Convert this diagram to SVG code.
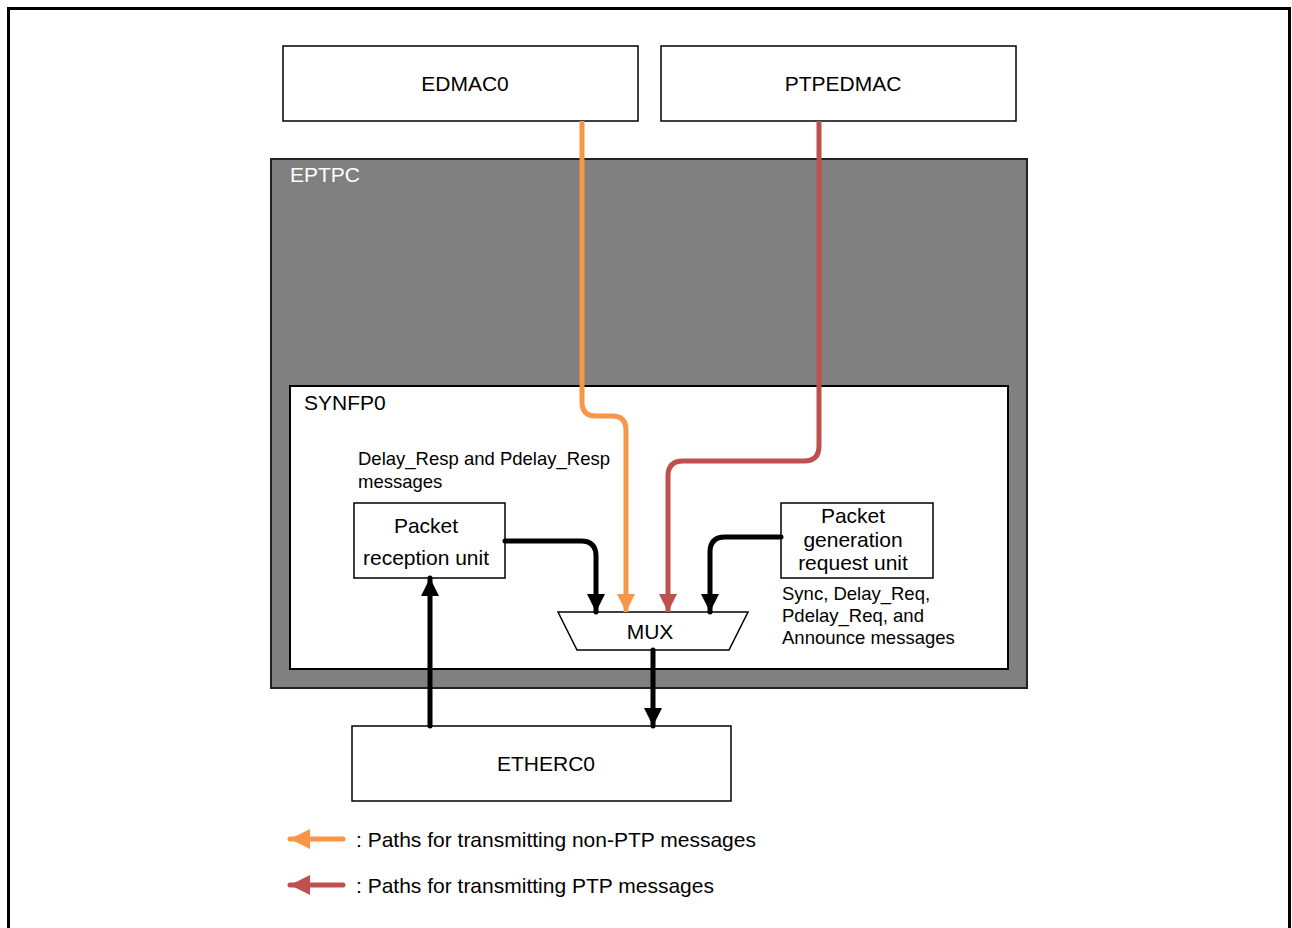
<svg xmlns="http://www.w3.org/2000/svg" width="1292" height="928" viewBox="0 0 1292 928">
<style>
text{font-family:"Liberation Sans",Arial,sans-serif;fill:#000}
.box{fill:#fff;stroke:#000;stroke-width:1.5}
.lbl{font-size:21px;text-anchor:middle}
.sm{font-size:18.5px}
.blk{fill:none;stroke:#000;stroke-width:5}
.org{fill:none;stroke:#F79646;stroke-width:5}
.red{fill:none;stroke:#C0504D;stroke-width:5}
</style>
<defs>
<marker id="ab" markerUnits="userSpaceOnUse" markerWidth="20" markerHeight="20" refX="18" refY="10" orient="auto"><path d="M0,1 L18,10 L0,19 Z" fill="#000"/></marker>
<marker id="ao" markerUnits="userSpaceOnUse" markerWidth="20" markerHeight="20" refX="18" refY="10" orient="auto"><path d="M0,1 L18,10 L0,19 Z" fill="#F79646"/></marker>
<marker id="ar" markerUnits="userSpaceOnUse" markerWidth="20" markerHeight="20" refX="18" refY="10" orient="auto"><path d="M0,1 L18,10 L0,19 Z" fill="#C0504D"/></marker>
<marker id="lo" markerUnits="userSpaceOnUse" markerWidth="24" markerHeight="24" refX="20" refY="12" orient="auto"><path d="M0,2 L20,12 L0,22 Z" fill="#F79646"/></marker>
<marker id="lr" markerUnits="userSpaceOnUse" markerWidth="24" markerHeight="24" refX="20" refY="12" orient="auto"><path d="M0,2 L20,12 L0,22 Z" fill="#C0504D"/></marker>
</defs>
<rect width="1292" height="928" fill="#fff"/>
<rect x="8.5" y="8.5" width="1281" height="930" fill="none" stroke="#000" stroke-width="3"/>

<g id="edmac0"><rect class="box" x="283" y="46" width="355" height="75"/><text class="lbl" x="465" y="91">EDMAC0</text></g>
<g id="ptpedmac"><rect class="box" x="661" y="46" width="355" height="75"/><text class="lbl" x="843" y="91">PTPEDMAC</text></g>
<g id="eptpc"><rect x="271" y="159" width="756" height="529" fill="#808080" stroke="#222" stroke-width="2"/><text x="290" y="182" style="font-size:21px;fill:#fff">EPTPC</text></g>
<g id="synfp0"><rect x="290" y="386" width="718" height="283" fill="#fff" stroke="#000" stroke-width="2"/><text x="304" y="410" style="font-size:21px">SYNFP0</text>
<text class="sm" x="358" y="465">Delay_Resp and Pdelay_Resp</text><text class="sm" x="358" y="488">messages</text>
<text class="sm" x="782" y="600">Sync, Delay_Req,</text><text class="sm" x="782" y="622">Pdelay_Req, and</text><text class="sm" x="782" y="644">Announce messages</text></g>
<g id="rx"><rect class="box" x="354" y="503" width="151" height="75"/><text class="lbl" x="426" y="533">Packet</text><text class="lbl" x="426" y="565">reception unit</text></g>
<g id="gen"><rect class="box" x="781" y="503" width="152" height="75"/><text class="lbl" x="853" y="523">Packet</text><text class="lbl" x="853" y="547">generation</text><text class="lbl" x="853" y="570">request unit</text></g>
<g id="mux"><path d="M558,612 L748,612 L729,650 L577,650 Z" fill="#fff" stroke="#000" stroke-width="1.5"/><text class="lbl" x="650" y="639">MUX</text></g>
<g id="etherc0"><rect class="box" x="352" y="726" width="379" height="75"/><text class="lbl" x="546" y="771">ETHERC0</text></g>

<g id="connectors">
<path class="org" d="M582,121 V402 Q582,416 596,416 H612 Q626,416 626,430 V612" marker-end="url(#ao)"/>
<path class="red" d="M819,121 V446 Q819,461 804,461 H683 Q668,461 668,476 V612" marker-end="url(#ar)"/>
<path class="blk" d="M505,541 H581 Q596,541 596,556 V612" marker-end="url(#ab)" stroke-linecap="round"/>
<path class="blk" d="M781,537 H725 Q710,537 710,552 V612" marker-end="url(#ab)" stroke-linecap="round"/>
<path class="blk" d="M653,650 V726" marker-end="url(#ab)" stroke-linecap="round"/>
<path class="blk" d="M430,726 V578" marker-end="url(#ab)" stroke-linecap="round"/>
</g>

<g id="legend">
<path class="org" d="M343,839 H290" stroke-width="6" stroke-linecap="round" marker-end="url(#lo)"/>
<text x="356" y="847" style="font-size:21px">: Paths for transmitting non-PTP messages</text>
<path class="red" d="M343,885 H290" stroke-width="6" stroke-linecap="round" marker-end="url(#lr)"/>
<text x="356" y="893" style="font-size:21px">: Paths for transmitting PTP messages</text>
</g>
</svg>
